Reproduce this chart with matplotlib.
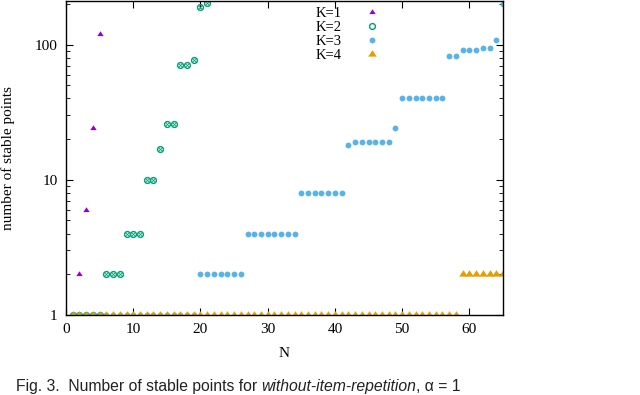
import numpy as np
import matplotlib
matplotlib.use('Agg')
import matplotlib.pyplot as plt
from matplotlib.path import Path
from matplotlib.ticker import LogLocator, NullFormatter, FixedLocator

# data (N -> number of stable points)
k1_n = [1, 2, 3, 4, 5]
k1_v = [1, 2, 6, 24, 120]

k2_n = list(range(1, 22))
k2_v = [1, 1, 1, 1, 1, 2, 2, 2, 4, 4, 4, 10, 10, 17, 26, 26, 71, 71, 77, 190, 202]

k3_n = list(range(1, 66))
k3_v = ([1] * 19 + [2] * 7 + [4] * 8 + [8] * 7 + [18] + [19] * 6 + [24] + [40] * 7
        + [83, 83, 91, 91, 91, 95, 95, 108, 198])

k4_n = list(range(1, 66))
k4_v = [1] * 58 + [2] * 7

plt.rcParams['font.family'] = ['Liberation Serif', 'DejaVu Serif']

# gnuplot-like filled triangle, point sits a bit below the centre
tri = Path([(-1, -0.5), (1, -0.5), (0, 1.0), (-1, -0.5)],
           [Path.MOVETO, Path.LINETO, Path.LINETO, Path.CLOSEPOLY])

fig = plt.figure(figsize=(6.4, 3.95), dpi=100)
ax = fig.add_axes([66 / 640, 1 - 315 / 395, 437 / 640, 314 / 395])

ax.plot(k1_n, k1_v, ls='none', marker=tri, ms=4.6, mew=0, color='#9400D3', label='K=1')
ax.plot(k2_n, k2_v, ls='none', marker='o', ms=4.2, mew=1.0, mfc='none', color='#009E73', label='K=2')
ax.plot(k2_n, k2_v, ls='none', marker='x', ms=2.2, mew=0.6, color='#009E73')
ax.plot(k3_n, k3_v, ls='none', marker='o', ms=4.2, mew=0, color='#56B4E9', label='K=3')
ax.plot(k4_n, k4_v, ls='none', marker=tri, ms=6.2, mew=0, color='#E69F00', label='K=4')

ax.set_yscale('log')
ax.set_xlim(0, 65)
ax.set_ylim(1, 210)
ax.xaxis.set_major_locator(FixedLocator([0, 10, 20, 30, 40, 50, 60]))
ax.yaxis.set_major_locator(FixedLocator([1, 10, 100]))
ax.yaxis.set_major_formatter(matplotlib.ticker.FuncFormatter(lambda v, p: '%d' % v))
ax.yaxis.set_minor_locator(LogLocator(base=10, subs=np.arange(2, 10)))
ax.yaxis.set_minor_formatter(NullFormatter())
ax.tick_params(which='both', direction='in', top=True, right=True, labelsize=11, pad=6)
ax.tick_params(which='major', length=5, width=0.8)
ax.tick_params(which='minor', length=3, width=0.6)
for s in ax.spines.values():
    s.set_linewidth(1.0)

ax.set_xlabel('N', fontsize=11, labelpad=8)
ax.set_ylabel('number of stable points', fontsize=11, labelpad=14)

leg = ax.legend(loc='upper right', bbox_to_anchor=(0.757, 0.982), frameon=False,
                markerfirst=False, fontsize=10.5, handlelength=3.4, handletextpad=0.4,
                labelspacing=0.05, borderpad=0, borderaxespad=0)

# caption under the figure
cap_kw = dict(fontsize=11.3, va='top', color='#222222', family='Liberation Sans')
cap_y = 1 - 379 / 395
t1 = fig.text(16 / 640, cap_y, 'Fig. 3.  Number of stable points for ', **cap_kw)
fig.canvas.draw()
r = fig.canvas.get_renderer()
x1 = t1.get_window_extent(r).x1
t2 = fig.text(x1 / 640, cap_y, 'without-item-repetition', style='italic', **cap_kw)
x2 = t2.get_window_extent(r).x1
fig.text(x2 / 640, cap_y, ', α = 1', **cap_kw)

fig.savefig('out.png', dpi=100)
